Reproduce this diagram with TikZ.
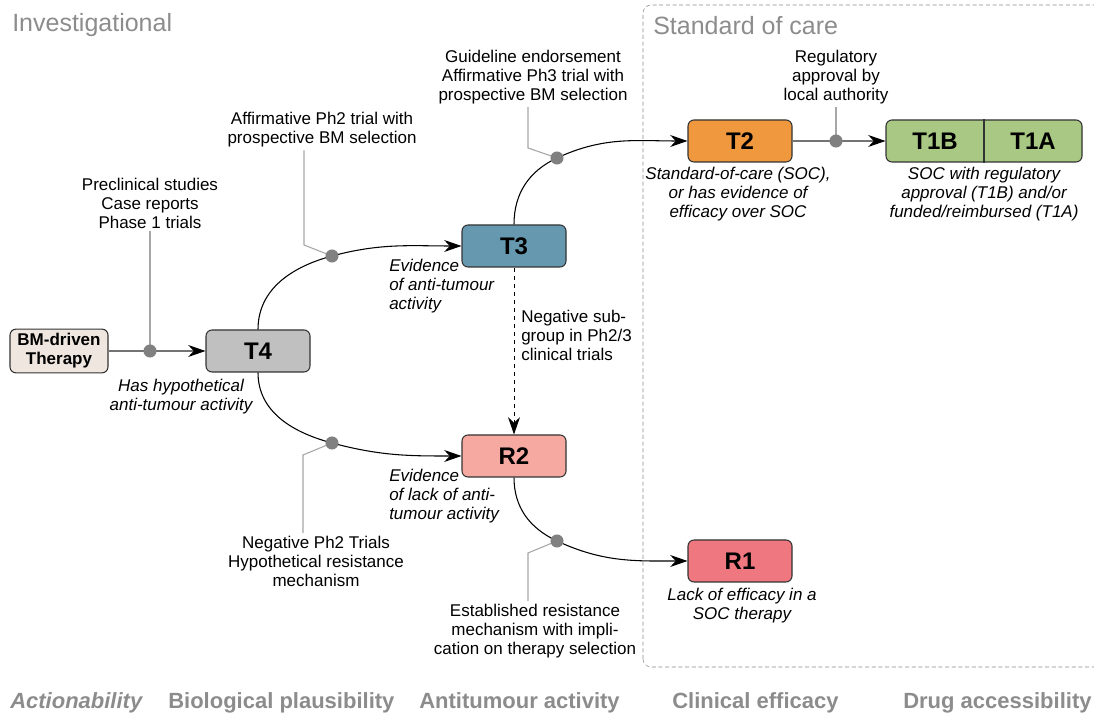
\documentclass[tikz,border=0pt]{standalone}
\usepackage{fontspec}
\setmainfont{Liberation Sans}
\usetikzlibrary{arrows.meta}
\definecolor{bmfill}{HTML}{EEE6DF}
\definecolor{t4fill}{HTML}{C0C0C0}
\definecolor{t3fill}{HTML}{6699AF}
\definecolor{r2fill}{HTML}{F6A9A0}
\definecolor{t2fill}{HTML}{F0983E}
\definecolor{t1fill}{HTML}{A8C883}
\definecolor{r1fill}{HTML}{EE7780}
\begin{document}
\begin{tikzpicture}[x=0.75pt,y=0.75pt,
  >={Stealth[length=13pt,width=9pt,color=black]},
  font=\fontsize{12.75}{14.25}\selectfont,
  tier/.style={draw=black!80,line width=0.8pt,rounded corners=4.5pt,minimum width=78pt,minimum height=31.5pt,font=\fontsize{18}{20}\selectfont\bfseries},
  note/.style={align=center,inner sep=2pt},
  remark/.style={align=center,inner sep=2pt,font=\fontsize{12.75}{14.25}\selectfont\itshape},
  lead/.style={draw=black!35,line width=0.8pt},
  flow/.style={->,line width=0.8pt},
  axis/.style={anchor=west,inner sep=0,text=black!45,font=\fontsize{16.5}{18}\selectfont\bfseries}]
\useasboundingbox (0,0) rectangle (1094,716);

\draw[black!45,dash pattern=on 3pt off 2pt,rounded corners=6pt] (643,49) rectangle (1110,711);
\node[anchor=west,inner sep=0,text=black!45,font=\fontsize{18.75}{20}\selectfont] (inv) at (12,691) {Investigational};
\node[anchor=west,inner sep=0,text=black!45,font=\fontsize{18.75}{20}\selectfont] (soc) at (653,690) {Standard of care};

\node[tier,fill=bmfill,minimum width=73.5pt,align=center,font=\fontsize{12.75}{14.25}\selectfont\bfseries] (bm) at (59,365) {BM-driven\\Therapy};
\node[tier,fill=t4fill] (t4) at (258,365) {T4};
\node[tier,fill=t3fill] (t3) at (514,470) {T3};
\node[tier,fill=r2fill] (r2) at (514,260) {R2};
\node[tier,fill=t2fill] (t2) at (740,575) {T2};
\node[tier,fill=r1fill] (r1) at (740,155) {R1};
\node[tier,fill=t1fill,minimum width=147pt] (t1) at (984,575) {};
\draw[black!80,line width=0.8pt] (t1.north) -- (t1.south);
\node[font=\fontsize{18}{20}\selectfont\bfseries] (t1b) at (935,575) {T1B};
\node[font=\fontsize{18}{20}\selectfont\bfseries] (t1a) at (1033,575) {T1A};

\coordinate (d1) at (150,365);
\coordinate (d2) at (332,460);
\coordinate (d3) at (557,558);
\coordinate (d4) at (332,273);
\coordinate (d5) at (557,175);
\coordinate (d6) at (836,575);

\node[note] (pre) at (150,513) {Preclinical studies\\Case reports\\Phase 1 trials};
\node[note] (ph2) at (322,586) {Affirmative Ph2 trial with\\prospective BM selection};
\node[note] (ph3) at (533,639) {Guideline endorsement\\Affirmative Ph3 trial with\\prospective BM selection};
\node[note] (reg) at (836,639) {Regulatory\\approval by\\local authority};
\node[note] (negph2) at (316,155) {Negative Ph2 Trials\\Hypothetical resistance\\mechanism};
\node[note] (estab) at (535,85) {Established resistance\\mechanism with impli-\\cation on therapy selection};
\node[note,anchor=west,align=left,inner sep=0] (negsub) at (521,381) {Negative sub-\\group in Ph2/3\\clinical trials};
\node[remark] (hyp) at (181,319) {Has hypothetical\\anti-tumour activity};
\node[remark,anchor=west,align=left,inner sep=0] (evt3) at (389,430) {Evidence\\of anti-tumour\\activity};
\node[remark,anchor=west,align=left,inner sep=0] (evr2) at (389,220) {Evidence\\of lack of anti-\\tumour activity};
\node[remark] (capt2) at (738,522) {Standard-of-care (SOC),\\or has evidence of\\efficacy over SOC};
\node[remark] (capt1) at (984,522) {SOC with regulatory\\approval (T1B) and/or\\funded/reimbursed (T1A)};
\node[remark] (capr1) at (742,110) {Lack of efficacy in a\\SOC therapy};

\draw[flow,draw=black!55] (bm) -- (t4);
\draw[flow,draw=black!55] (t2) -- (t1);
\draw[flow] (t4.north) to[out=90,in=-165] (d2) to[out=15,in=180] (t3.west);
\draw[flow] (t3.north) to[out=90,in=-155] (d3) to[out=25,in=180] (t2.west);
\draw[flow] (t4.south) to[out=-90,in=165] (d4) to[out=-15,in=180] (r2.west);
\draw[flow] (r2.south) to[out=-90,in=155] (d5) to[out=-25,in=180] (r1.west);
\draw[flow,line width=0.7pt,dash pattern=on 3.5pt off 2.5pt] (t3) -- (r2);

\draw[lead] (d1) -- (d1 |- pre.south);
\draw[lead] (d2) -- ++(-28,11) coordinate (l2) -- (l2 |- ph2.south);
\draw[lead] (d3) -- ++(-29,10) coordinate (l3) -- (l3 |- ph3.south);
\draw[lead] (d4) -- ++(-29,-12) coordinate (l4) -- (l4 |- negph2.north);
\draw[lead] (d5) -- ++(-29,-12) coordinate (l5) -- (l5 |- estab.north);
\draw[lead] (d6) -- (d6 |- reg.south);
\foreach \d in {d1,d2,d3,d4,d5,d6}
  \fill[black!50] (\d) circle[radius=4.9pt];

\node[axis,font=\fontsize{16.5}{18}\selectfont\bfseries\itshape] (ax10) at (10,13) {Actionability};
\foreach \x/\t in {168/Biological plausibility,419/Antitumour activity,672/Clinical efficacy,903/Drug accessibility}
  \node[axis] (ax\x) at (\x,13) {\t};
\end{tikzpicture}
\end{document}
